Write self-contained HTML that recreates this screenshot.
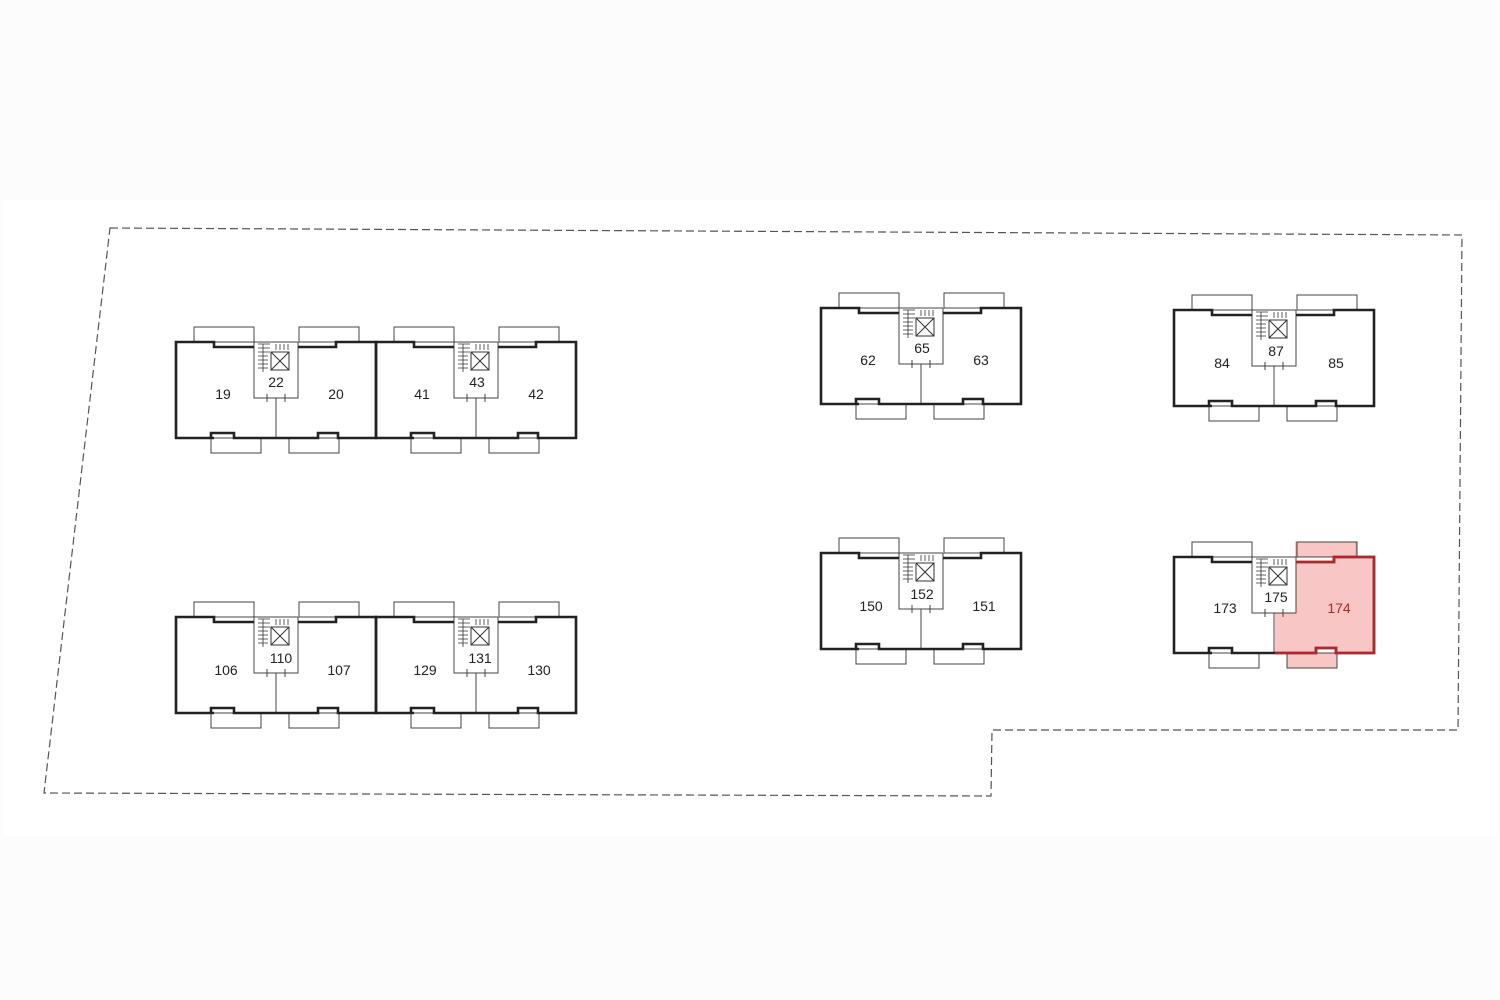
<!DOCTYPE html>
<html><head><meta charset="utf-8"><style>
html,body{margin:0;padding:0;background:#fcfcfc;}
svg{display:block;}
text{font-family:"Liberation Sans",sans-serif;font-size:14px;fill:#222;text-anchor:middle;}
</style></head><body>
<svg width="1500" height="1000" viewBox="0 0 1500 1000" xmlns="http://www.w3.org/2000/svg">
<defs>
<g id="u">
  <rect x="18" y="-15" width="60" height="15" fill="none" stroke="#444" stroke-width="1"/>
  <rect x="123" y="-15" width="60" height="15" fill="none" stroke="#444" stroke-width="1"/>
  <rect x="35" y="96" width="50" height="15" fill="none" stroke="#444" stroke-width="1"/>
  <rect x="113" y="96" width="50" height="15" fill="none" stroke="#444" stroke-width="1"/>
  <path d="M78,0 H122 M78,0 V56 H122 V0 M100,56 V96" fill="none" stroke="#444" stroke-width="1"/>
  <path d="M91,52 V60 M109,52 V60" stroke="#444" stroke-width="1"/>
  <path d="M38,96 H0 V0 H38 V5 H78 M122,5 H160 V0 H200 V96 H162 V91 H142 V96 H58 V91 H35 V96" fill="none" stroke="#222" stroke-width="2.6"/>
  <rect x="95" y="10" width="18" height="18" fill="none" stroke="#333" stroke-width="1"/>
  <path d="M95,10 L113,28 M113,10 L95,28" stroke="#333" stroke-width="1"/>
  <path d="M82,2 H94 M82,6 H94 M82,10 H94 M82,14 H92 M82,18 H92 M82,22 H92 M82,26 H92 M87,2 V30 M100,2 V8 M104,2 V8 M108,2 V8 M112,2 V8" stroke="#333" stroke-width="0.8"/>
</g>
</defs>
<rect x="3" y="200" width="1494" height="636" fill="#fff"/>
<path d="M110,228 L1462,235 L1458,730 L992,730 L991,796 L44,793 Z" fill="none" stroke="#555" stroke-width="1.2" stroke-dasharray="8,4"/>

<g transform="translate(1174,557)">
  <path d="M122,5 H160 V0 H200 V96 H162 V91 H142 V96 H101 V56 H122 Z" fill="#f9c6c6"/>
  <rect x="122" y="-15" width="60" height="15" fill="#f9c6c6" stroke="#e59a9a"/>
  <rect x="113" y="96" width="50" height="15" fill="#f9c6c6" stroke="#e59a9a"/>
</g>

<use href="#u" transform="translate(176,342)"/>
<use href="#u" transform="translate(376,342)"/>
<use href="#u" transform="translate(176,617)"/>
<use href="#u" transform="translate(376,617)"/>
<use href="#u" transform="translate(821,308)"/>
<use href="#u" transform="translate(1174,310)"/>
<use href="#u" transform="translate(821,553)"/>
<use href="#u" transform="translate(1174,557)"/>

<path d="M1296,562 H1334 V557 H1374 V653 H1336 V648 H1316 V653 H1275" fill="none" stroke="#b3262a" stroke-width="2.6"/>

<text x="223" y="399">19</text><text x="276" y="387">22</text><text x="336" y="399">20</text>
<text x="422" y="399">41</text><text x="477" y="387">43</text><text x="536" y="399">42</text>
<text x="226" y="675">106</text><text x="281" y="663">110</text><text x="339" y="675">107</text>
<text x="425" y="675">129</text><text x="480" y="663">131</text><text x="539" y="675">130</text>
<text x="868" y="365">62</text><text x="922" y="353">65</text><text x="981" y="365">63</text>
<text x="1222" y="368">84</text><text x="1276" y="356">87</text><text x="1336" y="368">85</text>
<text x="871" y="611">150</text><text x="922" y="599">152</text><text x="984" y="611">151</text>
<text x="1225" y="613">173</text><text x="1276" y="602">175</text><text x="1339" y="613" style="fill:#b3262a">174</text>
</svg>
</body></html>
